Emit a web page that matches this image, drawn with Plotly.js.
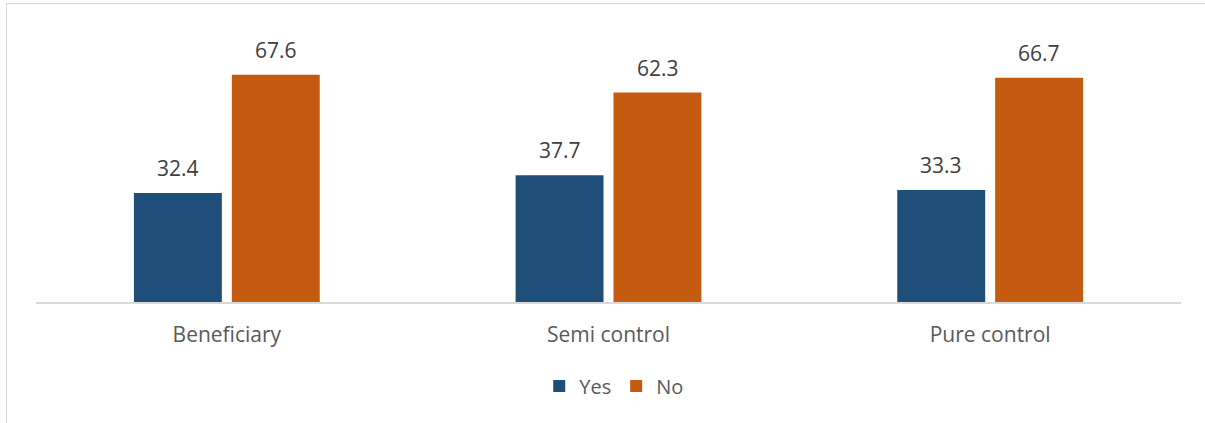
<!DOCTYPE html>
<html>
<head>
<meta charset="utf-8">
<script src="https://cdn.plot.ly/plotly-3.0.1.min.js"></script>
<style>
html,body{margin:0;padding:0;background:#fff;}
#wrap{position:relative;width:1205px;height:423px;overflow:hidden;}
#chart{position:absolute;left:0;top:0;width:1205px;height:423px;}
#frame{position:absolute;left:6px;top:3px;width:1210px;height:430px;border-left:1.5px solid #d9d9d9;border-top:1.5px solid #d9d9d9;pointer-events:none;}
</style>
</head>
<body>
<div id="wrap"><div id="chart"></div><div id="frame"></div></div>
<script>
const categories = ["Beneficiary", "Semi control", "Pure control"];
const yesValues = [32.4, 37.7, 33.3];
const noValues = [67.6, 62.3, 66.7];
const seriesNames = ["Yes", "No"];
const colors = ["#1F4E79", "#C55A11"];

const font = "'Open Sans', 'Noto Sans', sans-serif";

const traces = [yesValues, noValues].map((vals, i) => ({
  type: 'bar',
  name: seriesNames[i],
  x: categories,
  y: vals,
  marker: {color: colors[i]},
  hoverinfo: 'none'
}));

const annotations = [];
[yesValues, noValues].forEach((vals, i) => {
  vals.forEach((v, j) => {
    annotations.push({
      x: categories[j], y: v, xref: 'x', yref: 'y',
      text: v.toFixed(1), showarrow: false,
      xshift: i === 0 ? -49 : 49, yshift: 9, yanchor: 'bottom',
      font: {family: font, size: 21, color: '#404040'}
    });
  });
});

const layout = {
  width: 1205, height: 423,
  margin: {l: 36, r: 24, t: 33, b: 121},
  paper_bgcolor: 'rgba(0,0,0,0)', plot_bgcolor: 'rgba(0,0,0,0)',
  barmode: 'group', bargap: 0.487, bargroupgap: 0.102,
  showlegend: true,
  legend: {orientation: 'h', x: 0.505, xanchor: 'center', y: -0.24, yanchor: 'top',
           font: {family: font, size: 20, color: '#595959'}, traceorder: 'normal',
           itemwidth: 30, itemsizing: 'constant'},
  xaxis: {type: 'category', showline: true, linecolor: '#d9d9d9', linewidth: 1.5,
          ticks: '', showgrid: false, zeroline: false, ticklabelstandoff: 13,
          tickfont: {family: font, size: 21, color: '#595959'}},
  yaxis: {range: [0, 80], showgrid: false, zeroline: false, showticklabels: false, ticks: '', showline: false},
  annotations: annotations,
  font: {family: font}
};

Plotly.newPlot('chart', traces, layout, {displayModeBar: false, staticPlot: true});
</script>
</body>
</html>
